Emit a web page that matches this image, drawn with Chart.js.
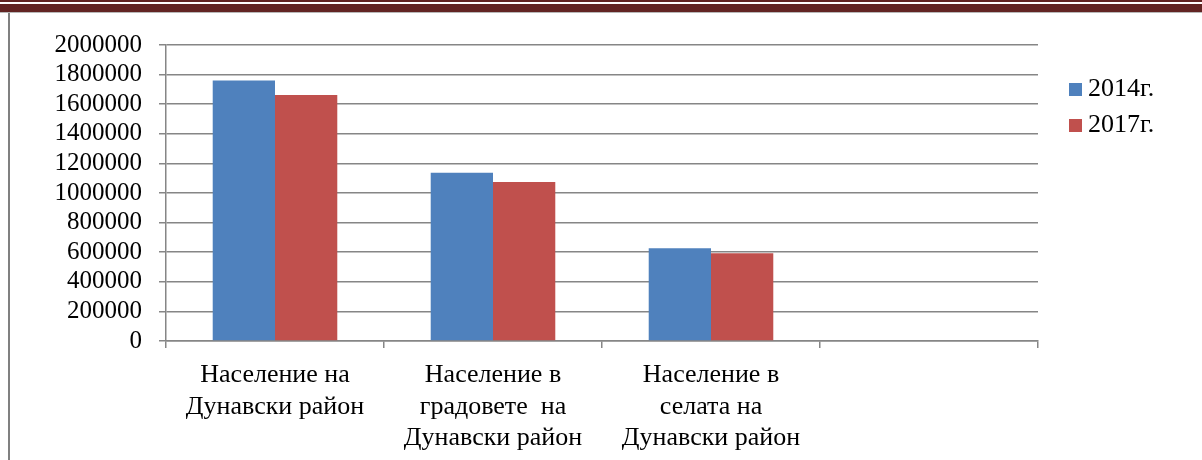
<!DOCTYPE html>
<html>
<head>
<meta charset="utf-8">
<script src="https://cdn.jsdelivr.net/npm/chart.js@4/dist/chart.umd.min.js"></script>
<style>
  body { margin: 0; background: #fff; }
  #wrap { position: relative; width: 1202px; height: 460px; overflow: hidden; }
  #topThin { position: absolute; left: 0; top: 0; width: 1202px; height: 2px; background: #622423; }
  #topThick { position: absolute; left: 0; top: 4px; width: 1202px; height: 8px; background: #622423; }
  #topShadow { position: absolute; left: 0; top: 12px; width: 1202px; height: 1px; background: #b8b8b8; }
  #leftLine { position: absolute; left: 8px; top: 13px; width: 2px; height: 447px; background: #808080; }
  #chart { position: absolute; left: 0; top: 0; }
  .legend-row { position: absolute; left: 1069px; height: 26px; }
  .legend-box { position: absolute; left: 0; top: 7px; width: 13px; height: 13px; }
  .legend-text { position: absolute; left: 19px; top: -1px; font: 26px "Liberation Serif", "Times New Roman", serif; line-height: 26px; color: #000; white-space: nowrap; }
</style>
</head>
<body>
<div id="wrap">
  <div id="topThin"></div>
  <div id="topThick"></div>
  <div id="topShadow"></div>
  <div id="leftLine"></div>
  <canvas id="chart" width="1202" height="460"></canvas>
  <div id="legend"></div>
</div>
<script>
// --- Data ---
const categories = [
    ['Население на', 'Дунавски район'],
    ['Население в', 'градовете  на', 'Дунавски район'],
    ['Население в', 'селата на', 'Дунавски район'],
    ''
];
const seriesNames = ['2014г.', '2017г.'];
const values2014 = [1760000, 1137000, 626000, null];
const values2017 = [1662000, 1074000, 593000, null];
const yTicks = [0, 200000, 400000, 600000, 800000, 1000000, 1200000, 1400000, 1600000, 1800000, 2000000];

// --- Styles ---
const colors = ['#4f81bd', '#c0504d'];
const gridGray = '#868686';
const serif = '"Liberation Serif", "Times New Roman", serif';

const chart = new Chart(document.getElementById('chart'), {
    type: 'bar',
    data: {
        labels: categories,
        datasets: [
            { label: seriesNames[0], data: values2014, backgroundColor: colors[0] },
            { label: seriesNames[1], data: values2017, backgroundColor: colors[1] }
        ]
    },
    options: {
        responsive: false,
        animation: false,
        devicePixelRatio: 1,
        layout: { padding: { top: 45, right: 164, left: 0, bottom: 0 } },
        datasets: {
            bar: { categoryPercentage: 0.5714, barPercentage: 1 }
        },
        plugins: {
            legend: { display: false },
            tooltip: { enabled: false }
        },
        scales: {
            x: {
                grid: { drawOnChartArea: false, drawTicks: true, tickLength: 7, color: gridGray, lineWidth: 1.5 },
                border: { color: gridGray, width: 1.5 },
                ticks: {
                    color: '#000',
                    font: { family: serif, size: 26, lineHeight: 1.2 },
                    padding: 12,
                    maxRotation: 0,
                    autoSkip: false
                },
                afterFit: (scale) => { scale.height = 119; }
            },
            y: {
                min: yTicks[0],
                max: yTicks[yTicks.length - 1],
                afterBuildTicks: (scale) => { scale.ticks = yTicks.map(v => ({ value: v })); },
                grid: { color: gridGray, lineWidth: 1.5, tickLength: 7 },
                border: { color: gridGray, width: 1.5 },
                ticks: {
                    color: '#000',
                    font: { family: serif, size: 25 },
                    padding: 17,
                    autoSkip: false,
                    callback: (v) => String(v)
                },
                afterFit: (scale) => { scale.width = 166; }
            }
        }
    }
});

// HTML legend built from the chart's datasets
const legendEl = document.getElementById('legend');
chart.data.datasets.forEach((ds, i) => {
    const row = document.createElement('div');
    row.className = 'legend-row';
    row.style.top = (76 + i * 36) + 'px';
    row.innerHTML = '<div class="legend-box" style="background:' + ds.backgroundColor + '"></div>' +
        '<div class="legend-text">' + ds.label + '</div>';
    legendEl.appendChild(row);
});
</script>
</body>
</html>
